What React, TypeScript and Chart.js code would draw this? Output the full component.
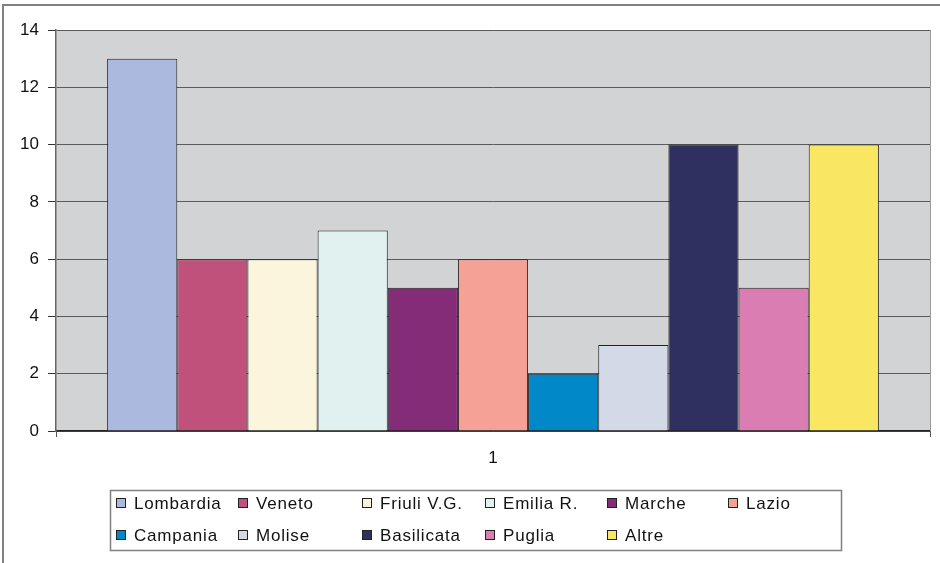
import React, { useEffect, useRef } from "react";
import { Chart, registerables } from "chart.js";

Chart.register(...registerables);

// Regions and their counts
const categories = ["1"];
const regions = [
  "Lombardia",
  "Veneto",
  "Friuli V.G.",
  "Emilia R.",
  "Marche",
  "Lazio",
  "Campania",
  "Molise",
  "Basilicata",
  "Puglia",
  "Altre",
];
const counts = [13, 6, 6, 7, 5, 6, 2, 3, 10, 5, 10];
const colors = [
  "#abb9df",
  "#c0517a",
  "#fbf5dd",
  "#e1f1ef",
  "#852c78",
  "#f6a196",
  "#0088c9",
  "#d4d9e7",
  "#2f2f60",
  "#d97db3",
  "#f9e763",
];
const yTicks = [0, 2, 4, 6, 8, 10, 12, 14];

const FONT = "'Liberation Sans', Arial, sans-serif";

// Light grey plot area plus white page behind everything
const backgroundPlugin = {
  id: "plotBackground",
  beforeDraw(chart: any) {
    const { ctx, chartArea, width, height } = chart;
    ctx.save();
    ctx.fillStyle = "#ffffff";
    ctx.fillRect(0, 0, width, height);
    ctx.fillStyle = "#d2d3d5";
    ctx.fillRect(
      chartArea.left,
      chartArea.top,
      chartArea.right - chartArea.left,
      chartArea.bottom - chartArea.top
    );
    ctx.restore();
  },
  afterDraw(chart: any) {
    const { ctx, chartArea } = chart;
    ctx.save();
    // faint right edge of the plot area
    ctx.strokeStyle = "#9a9a9a";
    ctx.lineWidth = 1;
    ctx.beginPath();
    ctx.moveTo(chartArea.right + 0.5, chartArea.top);
    ctx.lineTo(chartArea.right + 0.5, chartArea.bottom);
    ctx.stroke();
    // outer frame of the chart
    ctx.strokeStyle = "#808080";
    ctx.lineWidth = 2;
    ctx.strokeRect(3, 5, 960, 580);
    ctx.restore();
  },
};

// Boxed legend laid out in a fixed grid of six columns
const gridLegendPlugin = {
  id: "gridLegend",
  afterDraw(chart: any) {
    const { ctx } = chart;
    const boxX = 110.5;
    const boxY = 490.5;
    const boxW = 731;
    const boxH = 60;
    const cols = [116, 238, 362, 485, 607, 728];
    const rows = [503, 535];
    ctx.save();
    ctx.strokeStyle = "#808080";
    ctx.lineWidth = 1.5;
    ctx.strokeRect(boxX, boxY, boxW, boxH);
    ctx.font = `17px ${FONT}`;
    (ctx as any).letterSpacing = "0.8px";
    ctx.textBaseline = "middle";
    ctx.textAlign = "left";
    chart.data.datasets.forEach((ds: any, i: number) => {
      const x = cols[i % 6];
      const y = rows[Math.floor(i / 6)];
      ctx.fillStyle = ds.backgroundColor;
      ctx.fillRect(x, y - 5, 10, 10);
      ctx.strokeStyle = "#222";
      ctx.lineWidth = 1;
      ctx.strokeRect(x + 0.5, y - 4.5, 9, 9);
      ctx.fillStyle = "#111";
      ctx.fillText(ds.label, x + 18, y + 1);
    });
    ctx.restore();
  },
};

export default function App() {
  const canvasRef = useRef<HTMLCanvasElement>(null);

  useEffect(() => {
    const canvas = canvasRef.current;
    if (!canvas) return;
    const chart = new Chart(canvas, {
      type: "bar",
      data: {
        labels: categories,
        datasets: regions.map((name, i) => ({
          label: name,
          data: [counts[i]],
          backgroundColor: colors[i],
          borderColor: "#222222",
          borderWidth: 1,
          categoryPercentage: 0.883,
          barPercentage: 1,
        })),
      },
      options: {
        responsive: false,
        animation: false,
        devicePixelRatio: 1,
        layout: { padding: { top: 30, right: 10, left: 0, bottom: 0 } },
        plugins: {
          legend: { display: false },
          tooltip: { enabled: false },
        },
        scales: {
          x: {
            offset: true,
            grid: {
              display: true,
              drawOnChartArea: false,
              tickLength: 6,
              color: "#555",
            },
            border: { color: "#222", width: 1.5 },
            ticks: {
              color: "#111",
              font: { family: FONT, size: 17 },
              padding: 11,
            },
            afterFit(scale: any) {
              scale.height = 132;
            },
          },
          y: {
            min: 0,
            max: 14,
            afterBuildTicks(scale: any) {
              scale.ticks = yTicks.map((v) => ({ value: v }));
            },
            grid: {
              color: "#5a5a5a",
              lineWidth: 1,
              tickLength: 8,
              tickColor: "#333",
            },
            border: { color: "#666", width: 1.5 },
            ticks: {
              color: "#111",
              font: { family: FONT, size: 17 },
              padding: 9,
            },
            afterFit(scale: any) {
              scale.width = 56;
            },
          },
        },
      },
      plugins: [backgroundPlugin, gridLegendPlugin],
    });
    return () => chart.destroy();
  }, []);

  return (
    <div
      style={{
        position: "fixed",
        left: 0,
        top: 0,
        width: 940,
        height: 563,
        background: "#fff",
      }}
    >
      <canvas
        ref={canvasRef}
        width={940}
        height={563}
        style={{ display: "block", width: 940, height: 563 }}
      />
    </div>
  );
}
